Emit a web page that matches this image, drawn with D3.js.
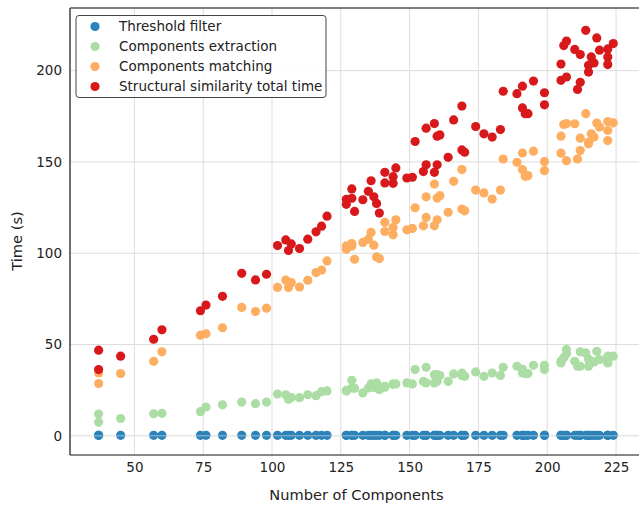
<!DOCTYPE html>
<html>
<head>
<meta charset="utf-8">
<script src="https://cdn.jsdelivr.net/npm/d3@7"></script>
<style>
  body { margin: 0; background: #fff; }
  svg { display: block; font-family: "DejaVu Sans", sans-serif; }
</style>
</head>
<body>
<div id="chart"></div>
<script>
// DATA
const components = [37, 37, 45, 57, 60, 74, 76, 82, 89, 94, 98, 102, 105, 107, 106, 110, 113, 116, 118, 120,
    127, 127, 129, 129, 130, 133, 135, 136, 137, 138, 139, 141, 141, 144, 145, 144, 149, 151, 152, 155,
    156, 156, 159, 159, 160, 161, 160, 164, 166, 169, 169, 170, 174, 177, 180, 183, 184, 189, 191, 195,
    199, 199, 191, 192, 193, 205, 205, 207, 212, 211, 206, 207, 210, 212, 214, 218, 219, 216, 217, 215,
    215, 222, 224, 222, 222];

const thresholdFilter = [0.3, 0.3, 0.3, 0.3, 0.3, 0.3, 0.3, 0.3, 0.3, 0.3, 0.3, 0.3, 0.3, 0.3, 0.3, 0.3, 0.3, 0.3, 0.3, 0.3,
    0.3, 0.3, 0.3, 0.3, 0.3, 0.3, 0.3, 0.3, 0.3, 0.3, 0.3, 0.3, 0.3, 0.3, 0.3, 0.3, 0.3, 0.3, 0.3, 0.3,
    0.3, 0.3, 0.3, 0.3, 0.3, 0.3, 0.3, 0.3, 0.3, 0.3, 0.3, 0.3, 0.3, 0.3, 0.3, 0.3, 0.3, 0.3, 0.3, 0.3,
    0.3, 0.3, 0.3, 0.3, 0.3, 0.3, 0.3, 0.3, 0.3, 0.3, 0.3, 0.3, 0.3, 0.3, 0.3, 0.3, 0.3, 0.3, 0.3, 0.3,
    0.3, 0.3, 0.3, 0.3, 0.3];

const componentsExtraction = [11.9, 7.5, 9.5, 12.1, 12.3, 13.2, 15.8, 17.0, 18.5, 17.6, 18.5, 22.9, 22.5, 21.0, 20.0, 20.9, 22.5, 22.0, 24.2, 24.6,
    24.9, 24.5, 26.2, 30.4, 26.0, 23.5, 26.2, 28.4, 26.5, 29.0, 25.3, 27.1, 26.6, 28.4, 28.4, 28.2, 29.0, 28.4, 36.3, 29.8,
    29.0, 37.5, 29.0, 33.5, 33.5, 33.0, 29.8, 29.8, 33.9, 34.4, 33.0, 32.6, 35.0, 32.6, 34.4, 33.1, 37.5, 38.1, 36.5, 38.6,
    38.6, 36.3, 34.4, 34.1, 34.1, 41.0, 39.9, 47.3, 38.1, 38.1, 42.7, 45.0, 40.8, 46.0, 45.4, 46.3, 41.8, 40.8, 40.5, 42.0,
    38.1, 39.9, 43.6, 40.3, 43.6];

const componentsMatching = [34.4, 28.6, 34.1, 40.8, 46.0, 55.1, 55.9, 59.2, 70.3, 68.1, 69.9, 81.3, 85.3, 83.9, 81.2, 81.5, 85.2, 89.4, 90.8, 95.8,
    104.0, 102.2, 103.9, 105.3, 96.7, 105.9, 107.7, 111.4, 104.4, 98.0, 97.1, 116.9, 111.9, 114.1, 118.3, 110.1, 112.8, 113.6, 124.9, 115.0,
    119.6, 130.9, 115.0, 137.9, 130.2, 131.5, 118.3, 122.4, 139.4, 145.8, 124.2, 123.2, 134.6, 133.0, 129.7, 134.6, 151.6, 149.8, 154.9, 155.9,
    150.2, 145.2, 145.8, 142.1, 142.5, 164.1, 154.8, 150.7, 156.2, 151.6, 170.5, 171.0, 170.9, 163.0, 176.4, 171.3, 169.1, 165.4, 163.6, 160.8,
    159.9, 172.1, 171.4, 167.2, 161.7];

const totalTime = [46.9, 36.3, 43.6, 52.9, 58.1, 68.5, 71.6, 76.4, 89.0, 85.4, 88.5, 104.2, 107.3, 105.1, 101.5, 102.6, 107.7, 111.7, 114.8, 120.3,
    129.5, 126.8, 130.1, 135.2, 122.9, 129.3, 133.9, 139.7, 130.9, 127.3, 122.0, 144.3, 138.5, 141.9, 146.7, 138.3, 141.2, 141.6, 161.2, 144.7,
    148.4, 168.5, 144.3, 171.0, 164.1, 164.8, 148.4, 152.5, 173.0, 180.6, 156.6, 155.3, 169.4, 165.4, 163.6, 167.7, 188.7, 187.4, 191.5, 194.3,
    187.9, 181.3, 179.6, 176.4, 176.4, 203.6, 194.7, 196.5, 193.6, 189.7, 213.7, 216.2, 211.6, 208.8, 222.1, 217.9, 211.2, 207.5, 204.2, 202.9,
    199.2, 211.9, 214.8, 207.5, 203.3];

const seriesNames = ["Threshold filter", "Components extraction", "Components matching", "Structural similarity total time"];
const seriesColors = ["#2b83ba", "#abdda4", "#fdae61", "#d7191c"];
const xTicks = [50, 75, 100, 125, 150, 175, 200, 225];
const yTicks = [0, 50, 100, 150, 200];

const seriesValues = [thresholdFilter, componentsExtraction, componentsMatching, totalTime];

// LAYOUT
const width = 639;
const height = 506;
const margin = { top: 8, right: -4, bottom: 51, left: 70 };

const svg = d3.select("#chart")
    .append("svg")
    .attr("width", width)
    .attr("height", height);

const xScale = d3.scaleLinear()
    .domain([26.6, 234.8])
    .range([margin.left, width - margin.right]);

const yScale = d3.scaleLinear()
    .domain([-10.5, 234.3])
    .range([height - margin.bottom, margin.top]);

// GRID
const grid = svg.append("g").attr("class", "grid");
grid.selectAll(".vgrid")
    .data(xTicks)
    .enter().append("line")
    .attr("x1", d => xScale(d)).attr("x2", d => xScale(d))
    .attr("y1", margin.top).attr("y2", height - margin.bottom)
    .attr("stroke", "#dddddd")
    .attr("stroke-width", 1);
grid.selectAll(".hgrid")
    .data(yTicks)
    .enter().append("line")
    .attr("x1", margin.left).attr("x2", width)
    .attr("y1", d => yScale(d)).attr("y2", d => yScale(d))
    .attr("stroke", "#dddddd")
    .attr("stroke-width", 1);

// POINTS
seriesValues.forEach((vals, i) => {
    svg.append("g")
        .selectAll("circle")
        .data(components.map((c, j) => ({ x: c, y: vals[j] })))
        .enter().append("circle")
        .attr("cx", d => xScale(d.x))
        .attr("cy", d => yScale(d.y))
        .attr("r", 4.6)
        .attr("fill", seriesColors[i]);
});

// gridline through the zero row shows over the blue dots
svg.append("line")
    .attr("x1", margin.left).attr("x2", width)
    .attr("y1", yScale(0)).attr("y2", yScale(0))
    .attr("stroke", "#e6e6e6")
    .attr("stroke-opacity", 0.6)
    .attr("stroke-width", 1);

// AXES
const xAxis = d3.axisBottom(xScale).tickValues(xTicks).tickSize(0).tickPadding(7);
const yAxis = d3.axisLeft(yScale).tickValues(yTicks).tickSize(0).tickPadding(8);

const xAxisGroup = svg.append("g")
    .attr("transform", `translate(0, ${height - margin.bottom})`)
    .call(xAxis);
const yAxisGroup = svg.append("g")
    .attr("transform", `translate(${margin.left}, 0)`)
    .call(yAxis);

[xAxisGroup, yAxisGroup].forEach(g => {
    g.select(".domain").remove();
    g.selectAll("text")
        .attr("font-family", "DejaVu Sans")
        .attr("font-size", 13.5)
        .attr("fill", "#222");
});

// spines
svg.append("line")
    .attr("x1", margin.left).attr("x2", margin.left)
    .attr("y1", margin.top).attr("y2", height - margin.bottom)
    .attr("stroke", "#111").attr("stroke-width", 1.2);
svg.append("line")
    .attr("x1", margin.left).attr("x2", width)
    .attr("y1", height - margin.bottom).attr("y2", height - margin.bottom)
    .attr("stroke", "#111").attr("stroke-width", 1.2);
svg.append("line")
    .attr("x1", margin.left).attr("x2", width)
    .attr("y1", margin.top).attr("y2", margin.top)
    .attr("stroke", "#555").attr("stroke-width", 1.5);

// AXIS LABELS
svg.append("text")
    .attr("x", (margin.left + width - margin.right) / 2)
    .attr("y", 500)
    .attr("text-anchor", "middle")
    .attr("font-size", 14.6)
    .attr("fill", "#222")
    .text("Number of Components");

svg.append("text")
    .attr("transform", `translate(22, 241) rotate(-90)`)
    .attr("text-anchor", "middle")
    .attr("font-size", 14.6)
    .attr("fill", "#222")
    .text("Time (s)");

// LEGEND
const legend = svg.append("g").attr("transform", "translate(76, 15.5)");
legend.append("rect")
    .attr("x", 0).attr("y", 0)
    .attr("width", 250).attr("height", 82)
    .attr("rx", 3)
    .attr("fill", "#fff")
    .attr("fill-opacity", 0.85)
    .attr("stroke", "#444")
    .attr("stroke-width", 1);

const legendItem = legend.selectAll(".legend")
    .data(seriesNames)
    .enter().append("g")
    .attr("class", "legend")
    .attr("transform", (d, i) => `translate(0, ${11 + i * 20})`);

legendItem.append("circle")
    .attr("cx", 19)
    .attr("cy", 0)
    .attr("r", 4.6)
    .attr("fill", (d, i) => seriesColors[i]);

legendItem.append("text")
    .attr("x", 43)
    .attr("y", 0)
    .attr("dy", "0.35em")
    .attr("font-size", 13.5)
    .attr("fill", "#222")
    .text(d => d);
</script>
</body>
</html>
